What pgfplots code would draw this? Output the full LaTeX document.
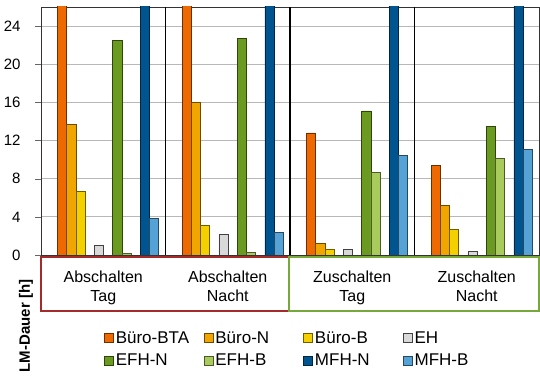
\documentclass[border=0pt]{standalone}
\usepackage{pgfplots}
\usepackage{pgfplotstable}
\pgfplotsset{compat=1.18}
\usepackage{fontspec}
\setmainfont{Liberation Sans}
\definecolor{cBTA}{HTML}{EE6A00}
\definecolor{cN}{HTML}{F0A500}
\definecolor{cB}{HTML}{F5D000}
\definecolor{cEH}{HTML}{D9D9D9}
\definecolor{cEFHN}{HTML}{6A9A1F}
\definecolor{cEFHB}{HTML}{A8CB5B}
\definecolor{cMFHN}{HTML}{00548F}
\definecolor{cMFHB}{HTML}{55A3D6}
\definecolor{cRed}{HTML}{A52A2A}
\definecolor{cGreen}{HTML}{77A83A}
\pgfplotstableread{
x   BTA  N    B    EH   EFHN EFHB MFHN MFHB
0.5 30   13.7 6.7  1.0  22.5 0.2  30   3.8
1.5 30   16.0 3.1  2.2  22.7 0.25 30   2.4
2.5 12.8 1.2  0.6  0.6  15.1 8.7  30   10.4
3.5 9.4  5.2  2.7  0.35 13.5 10.1 30   11.1
}\data
\begin{document}
\begin{tikzpicture}
\useasboundingbox (0,0) rectangle (540bp,376bp);
\begin{axis}[
  at={(41bp,121bp)}, anchor=south west,
  scale only axis, width=498bp, height=248bp,
  xmin=0, xmax=4, ymin=0, ymax=26,
  ybar, bar width=9.2bp,
  ytick={0,4,...,24},
  xtick={0.5,1.5,2.5,3.5},
  xticklabels={{Abschalten\\Tag},{Abschalten\\Nacht},{Zuschalten\\Tag},{Zuschalten\\Nacht}},
  xticklabel style={align=center, font=\fontsize{16bp}{18.5bp}\selectfont, yshift=-6.5bp},
  yticklabel style={font=\fontsize{15bp}{17bp}\selectfont, xshift=-11bp},
  /pgf/number format/assume math mode=true,
  major x tick style={draw=none},
  ytick style={black!60},
  tick align=outside, major tick length=6bp,
  ymajorgrids, grid style={black!28, line width=0.8bp},
  axis line style={black!80, line width=0.9bp},
  legend columns=4,
  legend style={at={(axis description cs:0.1265,-0.300)}, anchor=north west,
    draw=none, fill=none, inner sep=0pt, row sep=5bp,
    font=\fontsize{17bp}{19bp}\selectfont,
    nodes={text width=86bp, inner sep=2bp, align=left}},
  legend cell align=left,
  legend image code/.code={\draw[#1, line width=0.6bp] (0bp,-4.5bp) rectangle (9bp,4.5bp);},
  every axis plot/.append style={line width=0.6bp},
]
\addplot[fill=cBTA, draw=cBTA!45!black, bar shift=-41.15bp] table[x=x,y=BTA]{\data};
\addplot[fill=cN, draw=cN!45!black, bar shift=-31.95bp] table[x=x,y=N]{\data};
\addplot[fill=cB, draw=cB!45!black, bar shift=-22.75bp] table[x=x,y=B]{\data};
\addplot[fill=cEH, draw=cEH!30!black, bar shift=-4.35bp] table[x=x,y=EH]{\data};
\addplot[fill=cEFHN, draw=cEFHN!45!black, bar shift=14.05bp] table[x=x,y=EFHN]{\data};
\addplot[fill=cEFHB, draw=cEFHB!45!black, bar shift=23.25bp] table[x=x,y=EFHB]{\data};
\addplot[fill=cMFHN, draw=cMFHN!45!black, bar shift=41.65bp] table[x=x,y=MFHN]{\data};
\addplot[fill=cMFHB, draw=cMFHB!45!black, bar shift=50.85bp] table[x=x,y=MFHB]{\data};
\legend{Büro-BTA,Büro-N,Büro-B,EH,EFH-N,EFH-B,MFH-N,MFH-B}
\draw[black, line width=1.1bp] (axis cs:1,0) -- (axis cs:1,26);
\draw[black, line width=1.1bp] (axis cs:2,0) -- (axis cs:2,26);
\draw[black, line width=1.1bp] (axis cs:3,0) -- (axis cs:3,26);
\end{axis}
\draw[cRed, line width=1.8bp] (41bp,65bp) rectangle (289bp,119bp);
\draw[cGreen, line width=1.8bp] (289bp,65bp) rectangle (539bp,119bp);
\node[rotate=90, font=\bfseries\fontsize{15bp}{18bp}\selectfont] at (26bp,50bp) {LM-Dauer [h]};
\end{tikzpicture}
\end{document}
